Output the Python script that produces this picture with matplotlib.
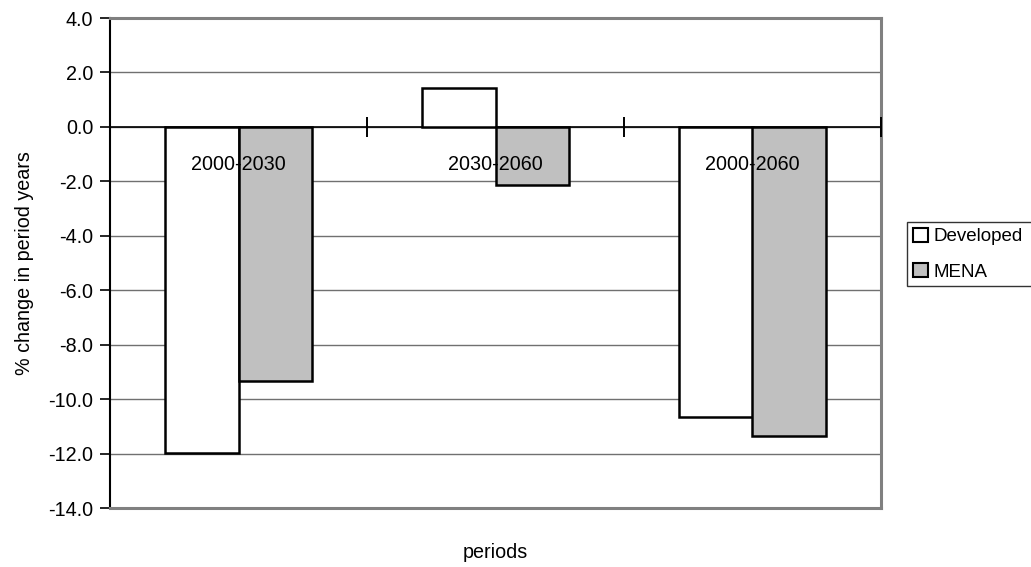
import matplotlib
matplotlib.use('Agg')
import matplotlib.pyplot as plt
import numpy as np
from matplotlib.patches import Patch

plt.rcParams['font.family'] = ['Liberation Sans', 'DejaVu Sans']

periods = ['2000-2030', '2030-2060', '2000-2060']
developed = [-11.97, 1.43, -10.67]
mena = [-9.35, -2.15, -11.35]
series_names = ['Developed', 'MENA']

W, H = 1031, 567
fig = plt.figure(figsize=(W / 100, H / 100), dpi=100)
ax = fig.add_axes([110 / W, (H - 508) / H, (881 - 110) / W, (508 - 18) / H])

x = np.arange(len(periods))
bw = 0.286
fs = 14.2

ax.set_ylim(-14, 4)
ax.set_xlim(-0.5, len(periods) - 0.5)
ax.set_yticks(np.arange(-14, 4.1, 2))
ax.set_yticklabels([f'{v:.1f}' for v in np.arange(-14, 4.1, 2)], fontsize=fs)
ax.yaxis.grid(True, color='#707070', linewidth=1.0)
ax.set_axisbelow(True)

ax.bar(x - bw / 2, developed, bw, color='white', edgecolor='black', linewidth=1.8, zorder=3)
ax.bar(x + bw / 2, mena, bw, color='#c0c0c0', edgecolor='black', linewidth=1.8, zorder=3)

# category axis sits on the zero line with crossing ticks
ax.axhline(0, color='black', linewidth=1.2, zorder=2)
ax.set_xticks([])
for b in np.arange(-0.5, len(periods), 1.0)[1:]:
    ax.plot([b, b], [0, 0], marker='|', markersize=14, color='black',
            markeredgewidth=1.2, zorder=4, clip_on=False)
for i, p in enumerate(periods):
    ax.annotate(p, (x[i], 0), xytext=(0, -27), textcoords='offset points',
                ha='center', va='center', fontsize=fs, zorder=5)

for side in ['top', 'right', 'bottom']:
    ax.spines[side].set_color('#808080')
    ax.spines[side].set_linewidth(2.2)
ax.spines['left'].set_color('black')
ax.spines['left'].set_linewidth(1.5)
ax.tick_params(axis='y', direction='out', length=7, width=1.2, pad=5)

ax.set_ylabel('% change in period years', fontsize=fs, labelpad=10)
fig.text(495 / W, 1 - 553 / H, 'periods', ha='center', va='center', fontsize=fs)

handles = [Patch(facecolor='white', edgecolor='black', linewidth=1.5),
           Patch(facecolor='#c0c0c0', edgecolor='black', linewidth=1.5)]
leg_top, leg_bot = 1 - 222 / H, 1 - 298 / H
leg = fig.legend(handles, series_names, loc='upper left', mode='expand',
                 bbox_to_anchor=(907 / W, leg_bot, (1035 - 907) / W, leg_top - leg_bot),
                 fontsize=13.5, frameon=True, fancybox=False, borderpad=0.3,
                 handlelength=0.8, handleheight=0.8, handletextpad=0.3,
                 labelspacing=0.95, borderaxespad=0)
leg.get_frame().set_edgecolor('black')
leg.get_frame().set_linewidth(1.0)

fig.savefig('out.png', dpi=100)
